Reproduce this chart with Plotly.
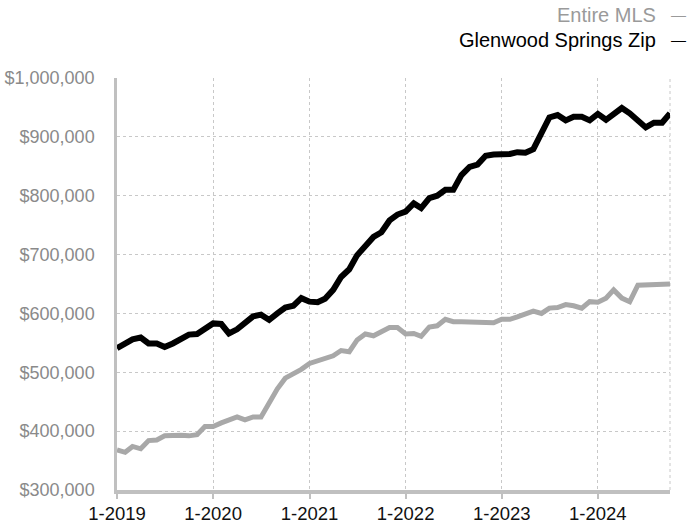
import pandas as pd
import plotly.graph_objects as go

# ---- data ----
months = pd.date_range("2019-01-01", periods=70, freq="MS")

glenwood_values = [
    541, 549, 556, 559, 549, 549, 543, 549, 556, 564, 565, 574, 583, 582, 566, 573, 583, 595,
    598, 589, 600, 610, 613, 626, 620, 619, 625, 640, 662, 675, 699, 715, 730, 738, 758, 768,
    773, 787, 779, 796, 800, 810, 810, 835, 849, 853, 868, 870, 870, 871, 874, 873,
    879, 905, 933, 937, 928, 934, 934, 928, 939, 929, 938, 949, 940, 928, 916, 924, 924, 940,
]
mls_values = [
    368, 364, 374, 370, 384, 385, 392, 393, 393, 392, 394, 408, 408, 414, 419, 424, 419, 424,
    424, 450, 472, 490, 497, 505, 515, 519, 523, 528, 537, 535, 555, 565, 562, 569, 576, 576,
    565, 566, 561, 577, 579, 590, 586, 586, 586, 585, 586, 584, 590, 590, 594, 598,
    604, 600, 609, 610, 615, 613, 609, 620, 619, 626, 640, 626, 620, 648, 648, 649, 650, 650,
]
glenwood_values = [v * 1000 for v in glenwood_values]
mls_values = [v * 1000 for v in mls_values]

year_ticks = ["2019-01-01", "2020-01-01", "2021-01-01", "2022-01-01", "2023-01-01", "2024-01-01"]
year_labels = ["1-2019", "1-2020", "1-2021", "1-2022", "1-2023", "1-2024"]

series_names = ["Entire MLS", "Glenwood Springs Zip"]
series_colors = ["#a8a8a8", "#000000"]
legend_text_colors = ["#9a9a9a", "#000000"]

FONT = "Liberation Sans, Arial, Helvetica, sans-serif"

fig = go.Figure()
fig.add_trace(go.Scatter(x=months, y=mls_values, mode="lines", name=series_names[0],
                         line=dict(color=series_colors[0], width=5), showlegend=False))
fig.add_trace(go.Scatter(x=months, y=glenwood_values, mode="lines", name=series_names[1],
                         line=dict(color=series_colors[1], width=6), showlegend=False))

grid_color = "#c8c8c8"
axis_color = "#c0c0c0"

fig.update_layout(
    width=688, height=523,
    margin=dict(l=117, r=18, t=78, b=33, autoexpand=False),
    plot_bgcolor="white", paper_bgcolor="white",
    font=dict(family=FONT),
    xaxis=dict(
        type="date", range=[months[0], months[-1]],
        tickvals=year_ticks, ticktext=year_labels, automargin=False,
        showgrid=True, gridcolor=grid_color, griddash="dot", gridwidth=1,
        showline=True, linecolor=axis_color, linewidth=4,
        ticks="outside", ticklen=5, tickwidth=2, tickcolor=axis_color,
        ticklabelstandoff=-1,
        tickfont=dict(size=18.5, color="#111111"), zeroline=False,
    ),
    yaxis=dict(
        range=[300000, 1000000], dtick=100000, tickprefix="$", tickformat=",",
        automargin=False,
        showgrid=True, gridcolor=grid_color, griddash="dot", gridwidth=1,
        showline=True, linecolor=axis_color, linewidth=2.5,
        ticks="", ticklabelstandoff=16,
        tickfont=dict(size=18, color="#8a8a8a"), zeroline=False,
    ),
)

# right-edge dotted grid line
fig.add_shape(type="line", xref="paper", yref="paper", x0=1, x1=1, y0=0, y1=1,
              line=dict(color=grid_color, width=1, dash="dot"), layer="below")

def px_x(p):
    return (p - 117) / 553

def px_y(p):
    return 1 + (78 - p) / 412

# legend: text on the left, short dash on the right
legend_rows = [15, 39.5]
for name, tcolor, lcolor, row in zip(series_names, legend_text_colors, series_colors, legend_rows):
    fig.add_annotation(xref="paper", yref="paper", x=px_x(658), y=px_y(row),
                       xanchor="right", yanchor="middle", showarrow=False,
                       text=name, font=dict(size=20, color=tcolor, family=FONT))
    fig.add_annotation(xref="paper", yref="paper", x=px_x(688), y=px_y(row),
                       xanchor="right", yanchor="middle", showarrow=False,
                       text="—", font=dict(size=15, color=tcolor, family=FONT))

# chart title, mostly above the visible area (as in the reference)
fig.add_annotation(xref="paper", yref="paper", x=px_x(10), y=px_y(1),
                   xanchor="left", yanchor="bottom", showarrow=False,
                   text="Average Sales Price",
                   font=dict(size=20, color="#000000", family=FONT))

fig.write_html("out.html", config={"displayModeBar": False},
               post_script="document.body.style.margin='0';document.body.style.overflow='hidden';")
